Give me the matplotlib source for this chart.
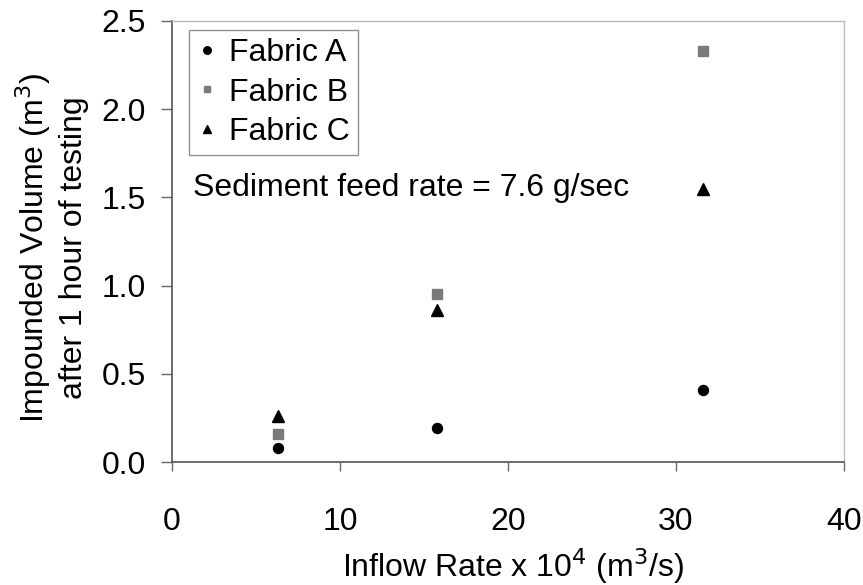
import numpy as np
import matplotlib.pyplot as plt

plt.rcParams['font.family'] = ['Liberation Sans', 'DejaVu Sans']

# inflow rate x 10^4 (m3/s)
inflow = [6.3, 15.8, 31.6]
fabric_a = [0.08, 0.19, 0.41]
fabric_b = [0.16, 0.95, 2.33]
fabric_c = [0.26, 0.86, 1.55]

x_ticks = [0, 10, 20, 30, 40]
y_ticks = [0.0, 0.5, 1.0, 1.5, 2.0, 2.5]

fig = plt.figure(figsize=(8.63, 5.85), dpi=100)
ax = fig.add_axes([172 / 863, 1 - 462 / 585, (844 - 172) / 863, (462 - 21) / 585])

ax.plot(inflow, fabric_a, 'o', color='black', ms=7.2, label='Fabric A', clip_on=False)
ax.plot(inflow, fabric_b, 's', color='#7a7a7a', ms=6.5, label='Fabric B', clip_on=False)
ax.plot(inflow, fabric_c, '^', color='black', ms=8, label='Fabric C', clip_on=False)

ax.set_xlim(0, 40)
ax.set_ylim(0, 2.5)
ax.set_xticks(x_ticks)
ax.set_yticks(y_ticks)
ax.set_yticklabels(['%.1f' % v for v in y_ticks])

fs = 23
ax.tick_params(axis='x', direction='out', length=6.5, width=1, color='#666666',
               labelsize=fs, pad=26)
ax.tick_params(axis='y', direction='out', length=8, width=1, color='#666666',
               labelsize=fs, pad=11)
for side in ['left', 'bottom']:
    ax.spines[side].set_color('#555555')
    ax.spines[side].set_linewidth(1.2)
for side in ['top', 'right']:
    ax.spines[side].set_color('#bbbbbb')
    ax.spines[side].set_linewidth(1.0)

fig.text(513 / 863, 1 - 566 / 585, r'Inflow Rate x 10$^4$ (m$^3$/s)', fontsize=fs,
         ha='center', va='center')
fig.text(51 / 863, 1 - 248 / 585,
         'Impounded Volume (m$^3$)\nafter 1 hour of testing',
         fontsize=fs, rotation=90, ha='center', va='center',
         multialignment='center', linespacing=1.25)

leg = ax.legend(loc='upper left', bbox_to_anchor=(189 / 863, 1 - 30 / 585),
                bbox_transform=fig.transFigure, fontsize=fs, frameon=True,
                fancybox=False, edgecolor='#777777', borderaxespad=0,
                handlelength=0.6, handletextpad=0.4, labelspacing=0.3,
                borderpad=0.25, markerscale=0.75)
leg.get_frame().set_linewidth(1.0)

ax.text(193 / 863, 1 - 188 / 585, 'Sediment feed rate = 7.6 g/sec', fontsize=fs,
        ha='left', va='center', transform=fig.transFigure)

fig.savefig('out.png', dpi=100)
